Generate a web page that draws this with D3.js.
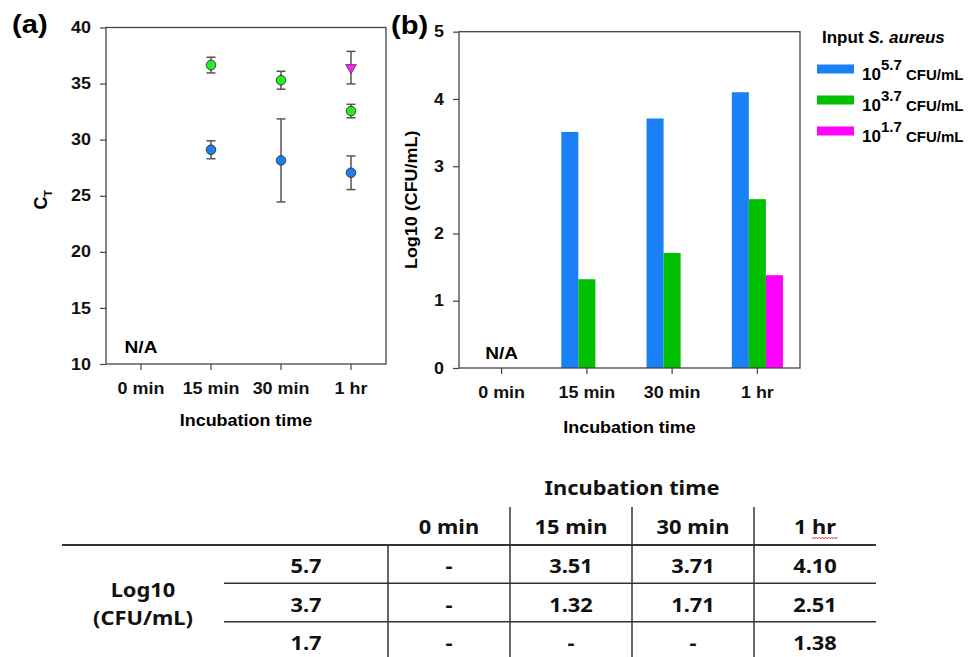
<!DOCTYPE html>
<html>
<head>
<meta charset="utf-8">
<script src="https://cdn.jsdelivr.net/npm/d3@7"></script>
<style>
  body { margin: 0; background: #fff; }
  svg { display: block; }
</style>
</head>
<body>
<svg id="fig" width="974" height="657"></svg>
<script>
// ---- data ----
const times = ["0 min", "15 min", "30 min", "1 hr"];
const inputs = ["5.7", "3.7", "1.7"];

// panel (a): C_T mean and error per input level
const ct57 = [null, 29.1, 28.15, 27.05];
const ct37 = [null, 36.65, 35.3, 32.55];
const ct17 = [null, null, null, 36.42];
const ctErr57 = [null, 0.8, 3.7, 1.5];
const ctErr37 = [null, 0.7, 0.8, 0.6];
const ctErr17 = [null, null, null, 1.45];

// panel (b) + table: log10 CFU/mL recovered
const log57 = [null, 3.51, 3.71, 4.10];
const log37 = [null, 1.32, 1.71, 2.51];
const log17 = [null, null, null, 1.38];

const ctTicks = [10, 15, 20, 25, 30, 35, 40];
const logTicks = [0, 1, 2, 3, 4, 5];

const ctSeries = [
    { key: "5.7", mean: ct57, err: ctErr57 },
    { key: "3.7", mean: ct37, err: ctErr37 },
    { key: "1.7", mean: ct17, err: ctErr17 }
];
const logSeries = [
    { key: "5.7", vals: log57 },
    { key: "3.7", vals: log37 },
    { key: "1.7", vals: log17 }
];

const dotColor = { "5.7": "#1c80ee", "3.7": "#22ee22", "1.7": "#ff1cff" };
const barColor = { "5.7": "#1a80f6", "3.7": "#00c000", "1.7": "#ff00ff" };

const FONT = "'Liberation Sans', Arial, sans-serif";
const TFONT = "'Noto Sans', 'Open Sans', sans-serif";
const STRETCH = 1.12;   // the source figure is a bit wider than the fonts

const fig = d3.select("#fig");

function widen(sel, k) {
    sel.each(function () {
        const w = this.getComputedTextLength();
        d3.select(this).attr("textLength", w * k).attr("lengthAdjust", "spacingAndGlyphs");
    });
}

function styleAxis(g) {
    g.select(".domain").remove();
    g.selectAll(".tick line").attr("stroke", "#444").attr("stroke-width", 1.2);
    g.selectAll(".tick text")
        .style("font", `bold 16px ${FONT}`)
        .attr("fill", "#111");
}

function frame(g, x0, x1, y0, y1) {
    g.append("rect")
        .attr("x", x0).attr("y", y1)
        .attr("width", x1 - x0).attr("height", y0 - y1)
        .attr("fill", "none")
        .attr("stroke", "#444")
        .attr("stroke-width", 1.3);
}

// ================= panel (a) =================
const xA = d3.scaleBand().domain(times).range([106, 386]);
const yA = d3.scaleLinear().domain([10, 40]).range([364, 27.5]);
const gA = fig.append("g");

gA.append("g")
    .attr("transform", `translate(0,${yA(10)})`)
    .call(d3.axisBottom(xA).tickSize(6).tickPadding(13))
    .call(styleAxis);
gA.append("g")
    .attr("transform", `translate(${xA.range()[0]},0)`)
    .call(d3.axisLeft(yA).tickValues(ctTicks).tickSize(6).tickPadding(9))
    .call(styleAxis);
frame(gA, xA.range()[0], xA.range()[1], yA(10), yA(40));

const cx = t => xA(t) + xA.bandwidth() / 2;

ctSeries.forEach(s => {
    const pts = times.map((t, i) => ({ t, m: s.mean[i], e: s.err[i] })).filter(d => d.m != null);
    const eb = gA.append("g").attr("stroke", "#555").attr("stroke-width", 1.5);
    pts.forEach(d => {
        eb.append("line").attr("x1", cx(d.t)).attr("x2", cx(d.t))
            .attr("y1", yA(d.m - d.e)).attr("y2", yA(d.m + d.e));
        [d.m - d.e, d.m + d.e].forEach(v => {
            eb.append("line").attr("x1", cx(d.t) - 4.5).attr("x2", cx(d.t) + 4.5)
                .attr("y1", yA(v)).attr("y2", yA(v));
        });
    });
});

ctSeries.forEach(s => {
    const pts = times.map((t, i) => ({ t, m: s.mean[i] })).filter(d => d.m != null);
    if (s.key === "1.7") {
        gA.selectAll(null).data(pts).join("path")
            .attr("d", d3.symbol(d3.symbolTriangle).size(50))
            .attr("transform", d => `translate(${cx(d.t)},${yA(d.m)}) rotate(180)`)
            .attr("fill", dotColor[s.key])
            .attr("stroke", "#444").attr("stroke-width", 0.8);
    } else {
        gA.selectAll(null).data(pts).join("circle")
            .attr("cx", d => cx(d.t)).attr("cy", d => yA(d.m))
            .attr("r", 4.8)
            .attr("fill", dotColor[s.key])
            .attr("stroke", "#333").attr("stroke-width", 0.9);
    }
});

gA.append("text")
    .attr("x", cx("0 min")).attr("y", yA(10) - 11)
    .attr("text-anchor", "middle")
    .style("font", `bold 17px ${FONT}`)
    .text("N/A");

gA.append("text")
    .attr("x", (xA.range()[0] + xA.range()[1]) / 2).attr("y", 426)
    .attr("text-anchor", "middle")
    .style("font", `bold 16px ${FONT}`)
    .text("Incubation time");

const ctLabel = gA.append("text")
    .attr("transform", `translate(47,${(yA(10) + yA(40)) / 2 + 4}) rotate(-90)`)
    .attr("text-anchor", "middle")
    .style("font", `bold 18px ${FONT}`);
ctLabel.append("tspan").text("C");
ctLabel.append("tspan").attr("dy", 5).style("font-size", "11px").text("T");

gA.append("text")
    .attr("x", 12).attr("y", 33)
    .style("font", `bold 26px ${FONT}`)
    .text("(a)");

// ================= panel (b) =================
const xB = d3.scaleBand().domain(times).range([459, 800]);
const yB = d3.scaleLinear().domain([0, 5]).range([368, 31.7]);
const xSub = d3.scaleBand().domain(inputs).range([-0.3 * xB.bandwidth(), 0.3 * xB.bandwidth()]);
const gB = fig.append("g");

logSeries.forEach(s => {
    const pts = times.map((t, i) => ({ t, v: s.vals[i] })).filter(d => d.v != null);
    gB.selectAll(null).data(pts).join("rect")
        .attr("x", d => xB(d.t) + xB.bandwidth() / 2 + xSub(s.key))
        .attr("y", d => yB(d.v))
        .attr("width", xSub.bandwidth())
        .attr("height", d => yB(0) - yB(d.v))
        .attr("fill", barColor[s.key]);
});

gB.append("g")
    .attr("transform", `translate(0,${yB(0)})`)
    .call(d3.axisBottom(xB).tickSize(6).tickPadding(13))
    .call(styleAxis);
gB.append("g")
    .attr("transform", `translate(${xB.range()[0]},0)`)
    .call(d3.axisLeft(yB).tickValues(logTicks).tickFormat(d3.format("d")).tickSize(6).tickPadding(9))
    .call(styleAxis);
frame(gB, xB.range()[0], xB.range()[1], yB(0), yB(5));

gB.append("text")
    .attr("x", xB("0 min") + xB.bandwidth() / 2).attr("y", yB(0) - 9)
    .attr("text-anchor", "middle")
    .style("font", `bold 17px ${FONT}`)
    .text("N/A");

gB.append("text")
    .attr("x", (xB.range()[0] + xB.range()[1]) / 2).attr("y", 433)
    .attr("text-anchor", "middle")
    .style("font", `bold 16px ${FONT}`)
    .text("Incubation time");

gB.append("text")
    .attr("transform", `translate(417,${(yB(0) + yB(5)) / 2}) rotate(-90)`)
    .attr("text-anchor", "middle")
    .style("font", `bold 16px ${FONT}`)
    .text("Log10 (CFU/mL)");

gB.append("text")
    .attr("x", 391).attr("y", 34)
    .style("font", `bold 26px ${FONT}`)
    .text("(b)");

// legend
const lg = gB.append("g");
const lgTitle = lg.append("text")
    .attr("x", 822).attr("y", 43)
    .style("font", `bold 17px ${FONT}`);
lgTitle.append("tspan").text("Input ");
lgTitle.append("tspan").style("font-style", "italic").text("S. aureus");

inputs.forEach((k, i) => {
    const yc = 69 + i * 31;
    lg.append("rect")
        .attr("x", 817).attr("y", yc - 4.5)
        .attr("width", 37).attr("height", 9)
        .attr("fill", barColor[k]);
    const t = lg.append("text")
        .attr("x", 862).attr("y", yc + 11)
        .style("font", `bold 17px ${FONT}`);
    t.append("tspan").text("10");
    t.append("tspan").attr("dy", -10).style("font-size", "15px").text(k);
    t.append("tspan").attr("dy", 10).attr("x", 906).style("font-size", "15px").text("CFU/mL");
});

// stretch the plain chart labels to the source width
widen(fig.selectAll(".tick text"), STRETCH);
widen(gA.selectAll("text").filter(function () { return !this.querySelector("tspan") && this.parentNode === gA.node(); }), STRETCH);
widen(gB.selectAll("text").filter(function () { return !this.querySelector("tspan") && this.parentNode === gB.node(); }), STRETCH);

// ================= table =================
const tx = d3.scaleBand().domain(times).range([388, 876]);
const ty = d3.scaleBand().domain(inputs).range([545, 660]);
const gT = fig.append("g").style("font", `bold 19px ${TFONT}`).attr("fill", "#111");
const tcx = t => tx(t) + tx.bandwidth() / 2;

gT.append("text")
    .attr("x", (tx.range()[0] + tx.range()[1]) / 2).attr("y", 495)
    .attr("text-anchor", "middle")
    .text("Incubation time");

gT.selectAll(null).data(times).join("text")
    .attr("x", tcx).attr("y", 534)
    .attr("text-anchor", "middle")
    .text(d => d);

const lines = gT.append("g").attr("stroke", "#333").attr("stroke-width", 1.5);
lines.append("line").attr("x1", 62).attr("x2", tx.range()[1])
    .attr("y1", ty.range()[0]).attr("y2", ty.range()[0]).attr("stroke-width", 2);
inputs.slice(1).forEach(k => {
    lines.append("line").attr("x1", 224).attr("x2", tx.range()[1])
        .attr("y1", ty(k)).attr("y2", ty(k));
});
lines.append("line").attr("x1", tx.range()[0]).attr("x2", tx.range()[0])
    .attr("y1", ty.range()[0]).attr("y2", 657);
times.slice(1).forEach(t => {
    lines.append("line").attr("x1", tx(t)).attr("x2", tx(t))
        .attr("y1", 507).attr("y2", 657);
});

logSeries.forEach(s => {
    const yc = ty(s.key) + ty.bandwidth() / 2 + 9;
    gT.append("text").attr("x", 306).attr("y", yc).attr("text-anchor", "middle").text(s.key);
    times.forEach((t, i) => {
        gT.append("text").attr("x", tcx(t)).attr("y", yc).attr("text-anchor", "middle")
            .text(s.vals[i] == null ? "-" : s.vals[i].toFixed(2));
    });
});

gT.append("text").attr("x", 143).attr("y", 597).attr("text-anchor", "middle").text("Log10");
gT.append("text").attr("x", 143).attr("y", 625).attr("text-anchor", "middle").text("(CFU/mL)");

widen(gT.selectAll("text"), 1.15);

// spell-check squiggle under "hr"
const sq = d3.range(0, 27, 1.5).map((d, i) => [812 + d, 538 + (i % 2 ? -1 : 1)]);
gT.append("path").attr("d", d3.line()(sq)).attr("fill", "none")
    .attr("stroke", "#e03030").attr("stroke-width", 0.8);
</script>
</body>
</html>
